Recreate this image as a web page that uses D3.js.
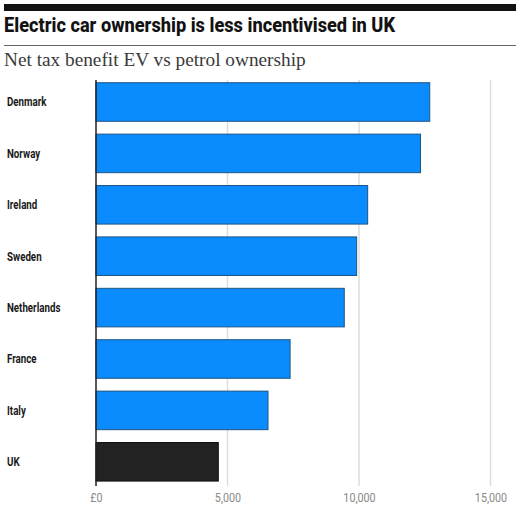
<!DOCTYPE html>
<html>
<head>
<meta charset="utf-8">
<script src="https://cdn.jsdelivr.net/npm/d3@7"></script>
<style>
  body { margin: 0; background: #fff; }
  svg { display: block; }
  .title { font-family: Roboto, Inter, sans-serif; font-weight: 800; font-size: 20px; fill: #121212; }
  .subtitle { font-family: "Liberation Serif", "DejaVu Serif", serif; font-size: 19.3px; fill: #3a3a3a; }
  .label { font-family: Roboto, sans-serif; font-weight: 700; font-size: 12.5px; fill: #1a1a1a; }
  .x.axis text { font-family: Roboto, sans-serif; font-size: 12.5px; fill: #8a8a8a; }
</style>
</head>
<body>
<script>
var countries = ["Denmark", "Norway", "Ireland", "Sweden", "Netherlands", "France", "Italy", "UK"];
var benefit = [12690, 12340, 10330, 9910, 9440, 7380, 6540, 4650];
var xTicks = [0, 5000, 10000, 15000];
var xTickLabels = ["£0", "5,000", "10,000", "15,000"];

var data = countries.map(function(c, i) { return {country: c, value: benefit[i]}; });

var width = 520, height = 514;

var x = d3.scaleLinear()
    .domain([0, 15000])
    .range([96, 490.5]);

var y = d3.scaleBand()
    .domain(countries)
    .range([76.3, 487.5])
    .paddingInner(0.25)
    .paddingOuter(0.125);

var svg = d3.select("body").append("svg")
    .attr("width", width)
    .attr("height", height);

// header
svg.append("rect")
    .attr("x", 4).attr("y", 4)
    .attr("width", 512).attr("height", 7)
    .attr("fill", "#121212");

svg.append("text")
    .attr("class", "title")
    .attr("x", 4).attr("y", 32)
    .attr("textLength", 391)
    .attr("lengthAdjust", "spacingAndGlyphs")
    .text("Electric car ownership is less incentivised in UK");

svg.append("line")
    .attr("x1", 4).attr("x2", 516)
    .attr("y1", 45.5).attr("y2", 45.5)
    .attr("stroke", "#666").attr("stroke-width", 1);

svg.append("text")
    .attr("class", "subtitle")
    .attr("x", 4).attr("y", 66)
    .text("Net tax benefit EV vs petrol ownership");

// gridlines
svg.append("g")
    .attr("class", "grid")
    .selectAll("line")
    .data(xTicks.slice(1))
    .enter().append("line")
    .attr("x1", function(d) { return x(d); })
    .attr("x2", function(d) { return x(d); })
    .attr("y1", 80)
    .attr("y2", 486)
    .attr("stroke", "#ddd")
    .attr("stroke-width", 1.5);

// bars
svg.append("g")
    .selectAll("rect")
    .data(data)
    .enter().append("rect")
    .attr("x", x(0))
    .attr("y", function(d) { return y(d.country); })
    .attr("width", function(d) { return x(d.value) - x(0); })
    .attr("height", y.bandwidth())
    .attr("fill", function(d) { return d.country === "UK" ? "#222" : "#0a8cff"; })
    .attr("stroke", function(d) { return d.country === "UK" ? "#111" : "#1d5585"; })
    .attr("stroke-width", 1);

// country labels (condensed look)
svg.append("g")
    .selectAll("text")
    .data(data)
    .enter().append("text")
    .attr("class", "label")
    .attr("transform", function(d) {
        return "translate(7," + (y(d.country) + y.bandwidth() / 2) + ") scale(0.78,1)";
    })
    .attr("dy", "0.35em")
    .text(function(d) { return d.country; });

// baseline
svg.append("line")
    .attr("x1", x(0)).attr("x2", x(0))
    .attr("y1", 80).attr("y2", 486)
    .attr("stroke", "#222").attr("stroke-width", 1.5);

// x axis
var xAxis = d3.axisBottom(x)
    .tickValues(xTicks)
    .tickFormat(function(d, i) { return xTickLabels[i]; })
    .tickSize(0)
    .tickPadding(0);

svg.append("g")
    .attr("class", "x axis")
    .attr("transform", "translate(0,493)")
    .call(xAxis)
    .call(function(g) { g.select(".domain").remove(); })
    .selectAll("text")
    .attr("transform", "scale(0.86,1)");
</script>
</body>
</html>
